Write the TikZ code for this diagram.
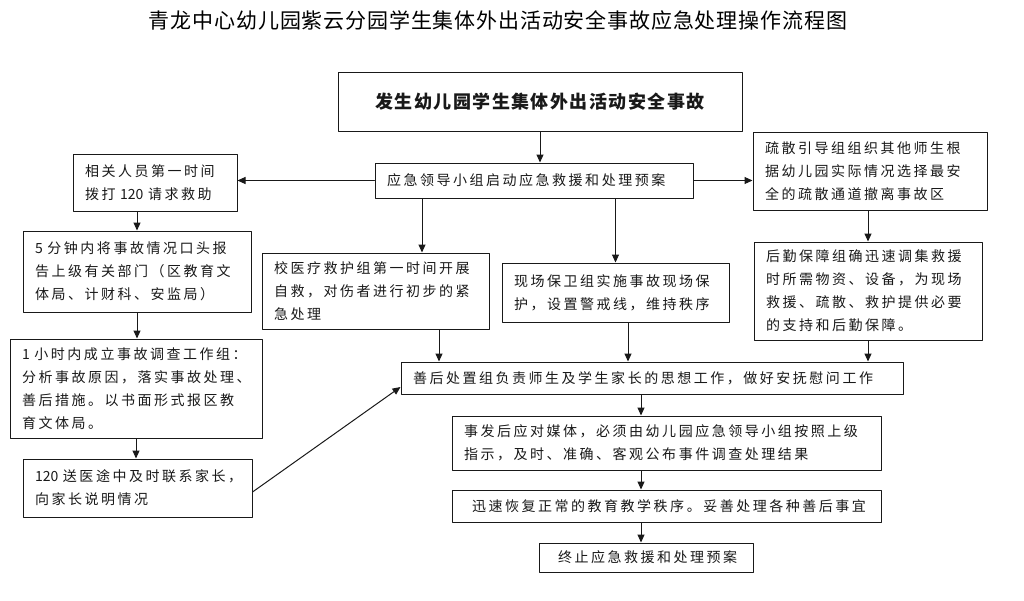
\documentclass[tikz,border=0pt]{standalone}
\usepackage{fontspec}
\setmainfont{Noto Sans CJK SC}
\newfontfamily\boxfont{Noto Sans CJK SC}[LetterSpace=18]
\newfontfamily\headfont{Noto Sans CJK SC}[LetterSpace=8]
\newfontfamily\titlefont{Noto Sans CJK SC}[LetterSpace=4]
\newcommand\digits[1]{{\addfontfeature{LetterSpace=0}#1}}
\usetikzlibrary{arrows.meta, positioning, calc}

\begin{document}
\begin{tikzpicture}[x=1pt, y=-1pt, >={Triangle[length=8pt, width=7pt]}, line cap=round, line join=round]
	
	%======================
	% STYLES
	%======================
	\tikzset{
		box/.style={draw=black!90, line width=1pt, fill=white, inner xsep=12pt, inner ysep=0pt,
			align=left, text=black!90, font=\boxfont\fontsize{14}{23}\selectfont},
		headbox/.style={box, align=center, font=\headfont\bfseries\fontsize{18}{22}\selectfont},
		flow/.style={->, line width=1pt, black!90}
	}
	
	% page (1024 x 600)
	\useasboundingbox[fill=white] (0,0) rectangle (1024,600);
	
	%======================
	% TITLE
	%======================
	\node[font=\titlefont\fontsize{21}{25}\selectfont] (title) at (498,20)
	{青龙中心幼儿园紫云分园学生集体外出活动安全事故应急处理操作流程图};
	
	%======================
	% CENTRE COLUMN
	%======================
	\node[headbox, text width=380pt, minimum height=59pt] (accident) at (540,101.5)
	{发生幼儿园学生集体外出活动安全事故};
	\node[box, text width=294pt, minimum height=35pt] (plan) at (534,180.5)
	{应急领导小组启动应急救援和处理预案};
	\node[box, text width=203pt, minimum height=76pt] (medical) at (375.5,291)
	{校医疗救护组第一时间开展\\自救，对伤者进行初步的紧\\急处理};
	\node[box, text width=203pt, minimum height=59pt] (guard) at (615.5,292.5)
	{现场保卫组实施事故现场保\\护，设置警戒线，维持秩序};
	\node[box, text width=478pt, minimum height=32pt] (comfort) at (652,378)
	{善后处置组负责师生及学生家长的思想工作，做好安抚慰问工作};
	\node[box, text width=405pt, minimum height=54pt] (media) at (666.5,443)
	{事发后应对媒体，必须由幼儿园应急领导小组按照上级\\指示，及时、准确、客观公布事件调查处理结果};
	\node[box, text width=405pt, minimum height=32pt] (restore) at (666.5,506)
	{\hspace*{8pt}迅速恢复正常的教育教学秩序。妥善处理各种善后事宜};
	\node[box, text width=190pt, minimum height=29pt] (terminate) at (646,557.5)
	{\hspace*{7pt}终止应急救援和处理预案};
	
	%======================
	% LEFT COLUMN
	%======================
	\node[box, text width=140pt, minimum height=57pt] (call) at (155,182.5)
	{相关人员第一时间\\拨打~\digits{120}~请求救助};
	\node[box, text width=204pt, minimum height=81pt] (report) at (137,271.5)
	{5~分钟内将事故情况口头报\\告上级有关部门（区教育文\\体局、计财科、安监局）};
	\node[box, text width=228pt, minimum height=99pt] (inquiry) at (136,388.5)
	{1~小时内成立事故调查工作组：\\分析事故原因，落实事故处理、\\善后措施。以书面形式报区教\\育文体局。};
	\node[box, text width=205pt, minimum height=58pt] (parents) at (137.5,488)
	{\digits{120}~送医途中及时联系家长，\\向家长说明情况};
	
	%======================
	% RIGHT COLUMN
	%======================
	\node[box, text width=210pt, minimum height=78pt] (evacuate) at (870,171)
	{疏散引导组组织其他师生根\\据幼儿园实际情况选择最安\\全的疏散通道撤离事故区};
	\node[box, text width=204pt, minimum height=98pt] (logistic) at (868,291)
	{后勤保障组确迅速调集救援\\时所需物资、设备，为现场\\救援、疏散、救护提供必要\\的支持和后勤保障。};
	
	%======================
	% CONNECTORS
	%======================
	\draw[flow] (accident.south) -- (accident.south |- plan.north);
	\draw[flow] (plan.west) -- (plan.west -| call.east);
	\draw[flow] (plan.east) -- (plan.east -| evacuate.west);
	\draw[flow] ([xshift=46.5pt]medical.north |- plan.south) -- ([xshift=46.5pt]medical.north);
	\draw[flow] (guard.north |- plan.south) -- (guard.north);
	
	% left column
	\draw[flow] (call.south -| report.north) -- (report.north);
	\draw[flow] (report.south) -- (report.south |- inquiry.north);
	\draw[flow] (inquiry.south) -- (inquiry.south |- parents.north);
	\draw[flow] ([yshift=-4pt]parents.east) -- ([yshift=-9pt]comfort.west);
	
	% into the follow-up group
	\draw[flow] ([xshift=63.5pt]medical.south) -- ([xshift=63.5pt]medical.south |- comfort.north);
	\draw[flow] ([xshift=12.5pt]guard.south) -- ([xshift=12.5pt]guard.south |- comfort.north);
	\draw[flow] (logistic.north |- evacuate.south) -- (logistic.north);
	\draw[flow] (logistic.south) -- (logistic.south |- comfort.north);
	
	% closing steps
	\draw[flow] ([xshift=-11pt]comfort.south) -- ([xshift=-11pt]comfort.south |- media.north);
	\draw[flow] ([xshift=-25.5pt]media.south) -- ([xshift=-25.5pt]media.south |- restore.north);
	\draw[flow] ([xshift=-25.5pt]restore.south) -- ([xshift=-25.5pt]restore.south |- terminate.north);
	
\end{tikzpicture}
\end{document}
